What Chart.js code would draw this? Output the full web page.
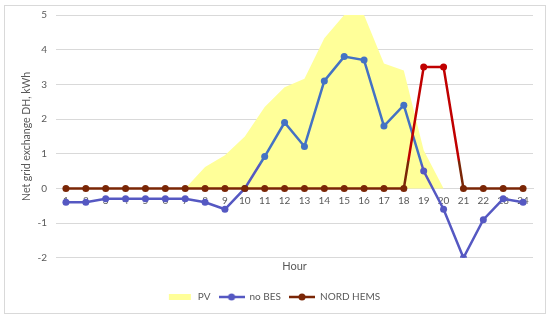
<!DOCTYPE html>
<html>
<head>
<meta charset="utf-8">
<script src="https://cdn.jsdelivr.net/npm/chart.js@4.4.1/dist/chart.umd.min.js"></script>
<style>
html,body{margin:0;padding:0;background:#fff;}
#wrap{width:550px;height:318px;position:relative;}
</style>
</head>
<body>
<div id="wrap"><canvas id="c" width="550" height="318"></canvas></div>
<script>
const hours = ['1','2','3','4','5','6','7','8','9','10','11','12','13','14','15','16','17','18','19','20','21','22','23','24'];
const pvValues = [0,0,0,0,0,0,0,0.62,0.96,1.5,2.35,2.92,3.16,4.33,5.0,5.0,3.6,3.4,1.1,0,0,0,0,0];
const noBesValues = [-0.4,-0.4,-0.3,-0.3,-0.3,-0.3,-0.3,-0.4,-0.6,0,0.92,1.9,1.21,3.1,3.8,3.7,1.8,2.4,0.5,-0.6,-2.0,-0.9,-0.3,-0.4];
const nordHemsValues = [0,0,0,0,0,0,0,0,0,0,0,0,0,0,0,0,0,0,3.5,3.5,0,0,0,0];
const yTickValues = [-2,-1,0,1,2,3,4,5];

const FONT = 'Lato, "Liberation Sans", sans-serif';
const TXT = '#595959';
const PV_COL = '#FFFF99';
const BLUE = '#4472C4', BLUE_LOW = '#5558C2';
const RED = '#C00000', BROWN = '#7A2606';

function legendIcon(kind, line, mark){
  const c = document.createElement('canvas');
  c.width = 26; c.height = 8;
  const g = c.getContext('2d');
  if(kind==='box'){ g.fillStyle = PV_COL; g.fillRect(2,1,22,6); }
  else{
    g.strokeStyle = line; g.lineWidth = 2.5;
    g.beginPath(); g.moveTo(0,4); g.lineTo(26,4); g.stroke();
    g.fillStyle = mark; g.beginPath(); g.arc(13,4,3.5,0,Math.PI*2); g.fill();
  }
  return c;
}
const icons = [legendIcon('box'), legendIcon('line',BLUE_LOW,BLUE_LOW), legendIcon('line',BROWN,BROWN)];

function vGrad(ctx, chart, stopVal, lowCol, highCol){
  const ca = chart.chartArea;
  if(!ca) return highCol;
  const y = chart.scales.y;
  const g = ctx.createLinearGradient(0, ca.bottom, 0, ca.top);
  const p = (y.getPixelForValue(stopVal) - ca.bottom) / (ca.top - ca.bottom);
  const pc = Math.min(Math.max(p,0),1);
  g.addColorStop(0, lowCol); g.addColorStop(pc, lowCol);
  g.addColorStop(Math.min(pc+0.001,1), highCol); g.addColorStop(1, highCol);
  return g;
}

const borderPlugin = {
  id:'outerBorder',
  beforeDraw(chart){
    const ctx = chart.ctx;
    ctx.save();
    ctx.fillStyle = '#fff'; ctx.fillRect(0,0,chart.width,chart.height);
    ctx.strokeStyle = '#D9D9D9'; ctx.lineWidth = 1;
    ctx.strokeRect(4.5,5.5,541,308);
    ctx.restore();
  }
};

new Chart(document.getElementById('c'), {
  type:'line',
  data:{
    labels: hours,
    datasets:[
      {label:'PV', data: pvValues, backgroundColor: PV_COL, borderWidth:0, borderColor:'rgba(0,0,0,0)', fill:'origin', pointRadius:0, order:3, tension:0},
      {label:'no BES', data: noBesValues, borderWidth:2.5, fill:false, tension:0, order:2,
        borderColor: (c)=>vGrad(c.chart.ctx, c.chart, 0.7, BLUE_LOW, BLUE),
        pointRadius:3.5, pointBorderWidth:0,
        pointBackgroundColor: (c)=> (c.raw>0.7? BLUE : BLUE_LOW)},
      {label:'NORD HEMS', data: nordHemsValues, borderWidth:2.5, fill:false, tension:0, order:1,
        borderColor: (c)=>vGrad(c.chart.ctx, c.chart, 0.8, BROWN, RED),
        pointRadius:3.5, pointBorderWidth:0,
        pointBackgroundColor: (c)=> (c.raw>1? RED : BROWN)}
    ]
  },
  options:{
    responsive:false, animation:false,
    layout:{padding:{left:14, right:17, top:14, bottom:6}},
    plugins:{
      legend:{position:'bottom', labels:{usePointStyle:true, pointStyleWidth:26, boxHeight:8, padding:8, color:TXT, font:{family:FONT,size:10},
        generateLabels(chart){
          return chart.data.datasets.map((d,i)=>({text:d.label, pointStyle:icons[i], fillStyle:'#fff', strokeStyle:'#fff', lineWidth:0, hidden:false, datasetIndex:i, fontColor:TXT}));
        }}},
      tooltip:{enabled:false}
    },
    scales:{
      x:{type:'category', position:{y:0}, offset:true,
        grid:{display:false, drawTicks:false},
        border:{display:true, color:'#D9D9D9'},
        ticks:{color:TXT, font:{family:FONT,size:10}, padding:6, maxRotation:0, autoSkip:false}},
      x2:{type:'category', position:'bottom', labels:hours, offset:true,
        grid:{display:false, drawTicks:false}, border:{display:false},
        ticks:{display:false},
        title:{display:true, text:'Hour', color:TXT, font:{family:FONT,size:11}, padding:{top:2,bottom:11}}},
      y:{min:-2, max:5,
        afterBuildTicks(s){ s.ticks = yTickValues.map(v=>({value:v})); },
        afterFit(s){ s.width = 42; },
        grid:{color:'#D9D9D9', lineWidth:1, drawTicks:false},
        border:{display:false},
        ticks:{color:TXT, font:{family:FONT,size:10}, padding:9},
        title:{display:true, text:'Net grid exchange DH, kWh', color:TXT, font:{family:FONT,size:10.5}, padding:{top:6,bottom:0}}}
    }
  },
  plugins:[borderPlugin]
});
</script>
</body>
</html>
